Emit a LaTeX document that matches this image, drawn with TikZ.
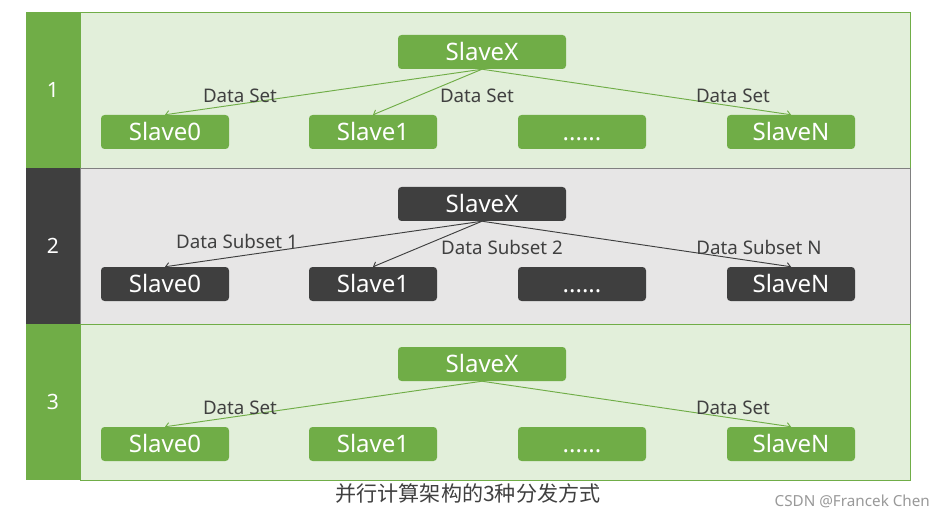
\documentclass[tikz,border=0pt]{standalone}
\usepackage{fontspec}
\setmainfont{Noto Sans}
\newfontfamily\cjk{Noto Sans CJK SC}
\usetikzlibrary{arrows.meta}
\definecolor{grn}{HTML}{70AD47}
\definecolor{lgrn}{HTML}{E2EFDA}
\definecolor{dgr}{HTML}{3F3F3F}
\definecolor{lgr}{HTML}{E7E6E6}
\definecolor{txt}{HTML}{404040}
\begin{document}
\begin{tikzpicture}[x=0.03cm,y=-0.03cm,
  gbox/.style={fill=grn,rounded corners=3pt,text=white,minimum width=128*0.03cm,minimum height=34*0.03cm,inner sep=0pt,text height=14.6pt,text depth=0pt,font=\fontsize{20.5}{20.5}\selectfont},
  wbox/.style={minimum width=168*0.03cm},
  dbox/.style={gbox,fill=dgr},
  gline/.style={draw=grn,line width=0.8pt,-{Straight Barb[length=3pt,width=6pt]}},
  dline/.style={gline,draw=dgr},
  lbl/.style={text=txt,font=\fontsize{16}{16}\selectfont,inner sep=0pt},
  num/.style={text=white,font=\fontsize{18}{18}\selectfont}]
\useasboundingbox (0,0) rectangle (937,516);
\fill[white] (0,0) rectangle (937,516);
% panels
\filldraw[fill=lgrn,draw=grn,line width=0.8pt] (80,12) rectangle (910,168);
\filldraw[fill=lgr,draw=gray,line width=0.8pt] (80,168) rectangle (910,324);
\filldraw[fill=lgrn,draw=grn,line width=0.8pt] (80,324) rectangle (910,480);
\fill[grn] (26,12) rectangle (80,168);
\fill[dgr] (26,168) rectangle (80,324);
\fill[grn] (26,324) rectangle (80,480);
\node[num] (n1) at (53,90) {1};
\node[num] (n2) at (53,246) {2};
\node[num] (n3) at (53,402) {3};
% band 1
\node[gbox,wbox] (ax) at (482,52) {SlaveX};
\node[gbox] (a0) at (165,132) {Slave0};
\node[gbox] (a1) at (373,132) {Slave1};
\node[gbox] (a2) at (582,132) {......};
\node[gbox] (an) at (791,132) {SlaveN};
\draw[gline] (ax.south) -- (a0.north);
\draw[gline] (ax.south) -- (a1.north);
\draw[gline] (ax.south) -- (an.north);
\node[lbl] (la0) at (240,96) {Data Set};
\node[lbl] (la1) at (477,96) {Data Set};
\node[lbl] (lan) at (733,96) {Data Set};
% band 2
\node[dbox,wbox] (bx) at (482,204) {SlaveX};
\node[dbox] (b0) at (165,284) {Slave0};
\node[dbox] (b1) at (373,284) {Slave1};
\node[dbox] (b2) at (582,284) {......};
\node[dbox] (bn) at (791,284) {SlaveN};
\draw[dline] (bx.south) -- (b0.north);
\draw[dline] (bx.south) -- (b1.north);
\draw[dline] (bx.south) -- (bn.north);
\node[lbl] (lb0) at (237,241) {Data Subset 1};
\node[lbl] (lb1) at (502,247) {Data Subset 2};
\node[lbl] (lbn) at (759,247) {Data Subset N};
% band 3
\node[gbox,wbox] (cx) at (482,364) {SlaveX};
\node[gbox] (c0) at (165,444) {Slave0};
\node[gbox] (c1) at (373,444) {Slave1};
\node[gbox] (c2) at (582,444) {......};
\node[gbox] (cn) at (791,444) {SlaveN};
\draw[gline] (cx.south) -- (c0.north);
\draw[gline] (cx.south) -- (cn.north);
\node[lbl] (lc0) at (240,408) {Data Set};
\node[lbl] (lcn) at (733,408) {Data Set};
% caption
\node[text=txt,font=\cjk\fontsize{18}{18}\selectfont] (cap) at (468,493) {并行计算架构的3种分发方式};
\node[text=gray!80,font=\fontsize{13}{13}\selectfont,anchor=east] (wm) at (934,501) {CSDN @Francek Chen};
\end{tikzpicture}
\end{document}
